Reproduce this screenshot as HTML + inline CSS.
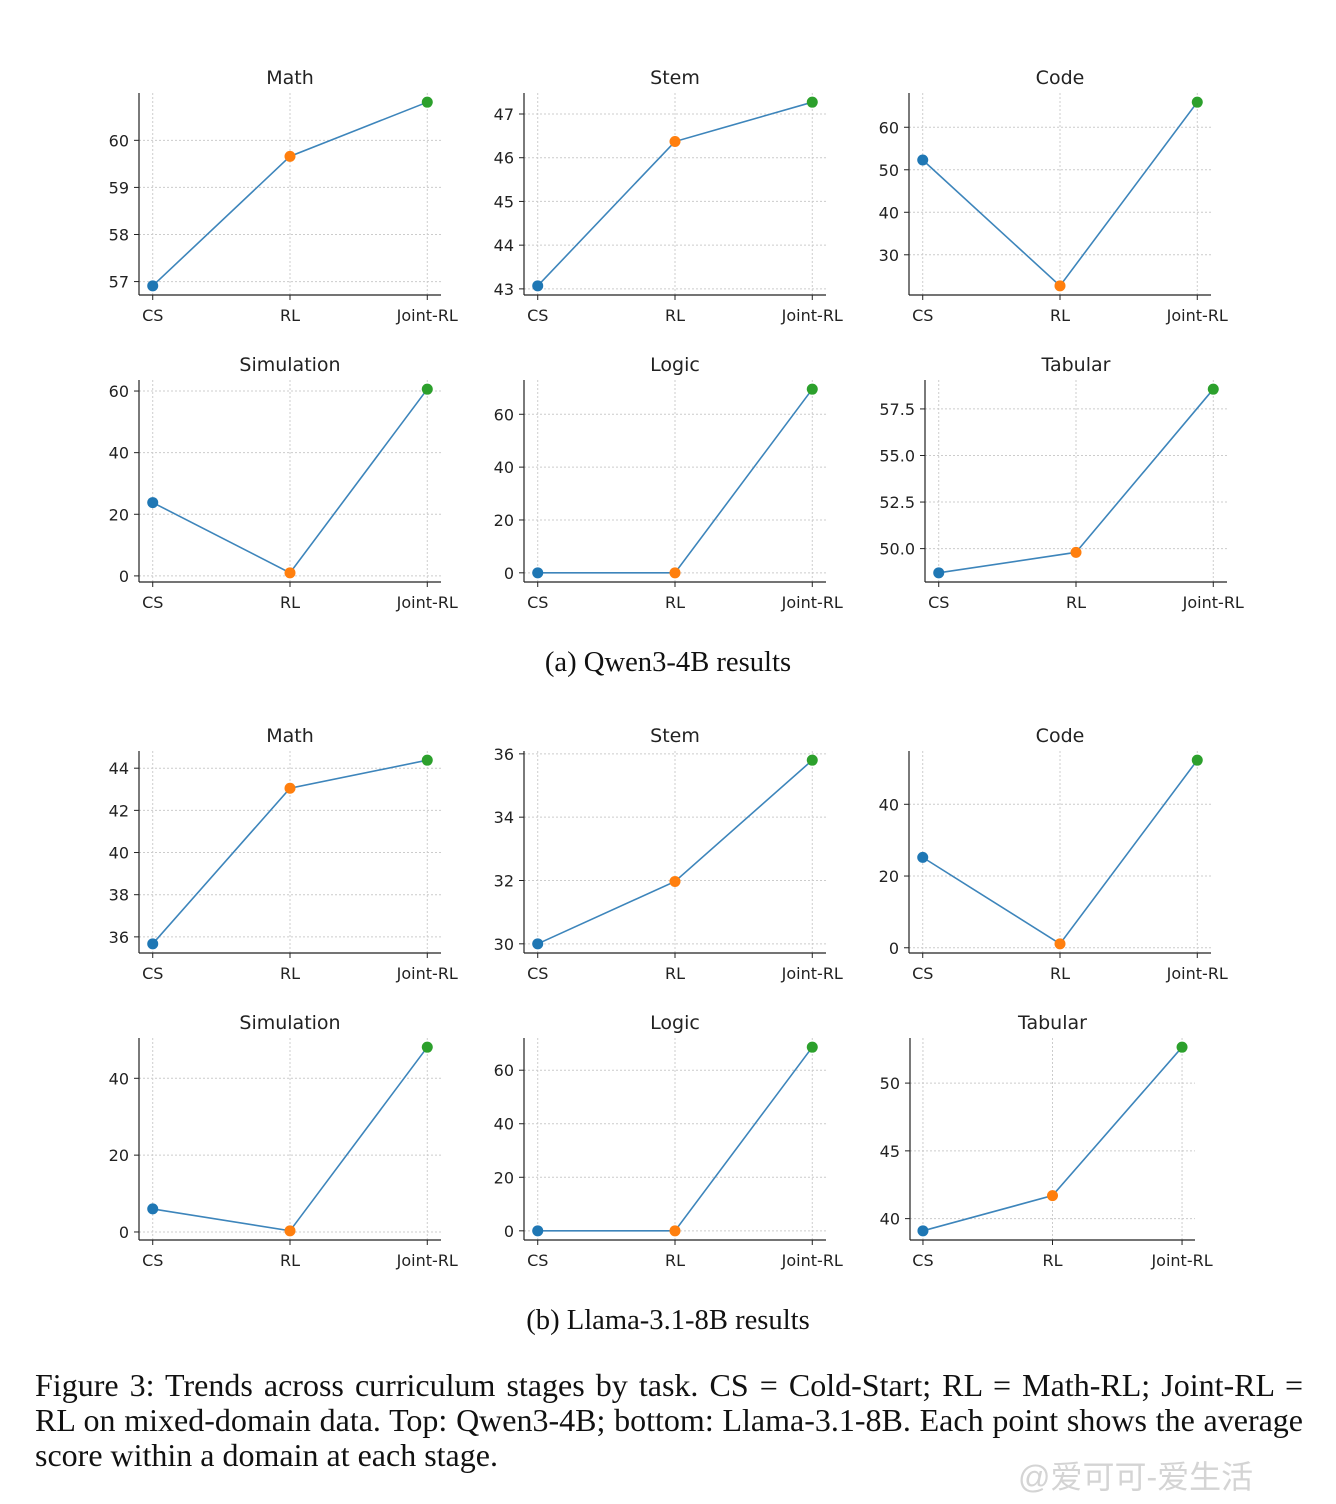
<!DOCTYPE html>
<html><head><meta charset="utf-8">
<style>
body{margin:0;background:#fff;width:1336px;height:1504px;overflow:hidden;position:relative}
svg{position:absolute;left:0;top:0}
.cap{position:absolute;font-family:"Liberation Serif",serif;color:#111}
.ln{display:block;text-align:justify;text-align-last:justify;white-space:nowrap}
.ln.last{text-align-last:left}
</style></head><body>
<svg id="chart" width="1336" height="1504"></svg>
<div class="cap" style="left:0;width:1336px;top:647px;text-align:center;font-size:28.6px">(a) Qwen3-4B results</div>
<div class="cap" style="left:0;width:1336px;top:1305px;text-align:center;font-size:28.6px">(b) Llama-3.1-8B results</div>
<div class="cap" style="left:35px;width:1268px;top:1368px;font-size:32px;line-height:35px">
<span class="ln">Figure 3: Trends across curriculum stages by task. CS = Cold-Start; RL = Math-RL; Joint-RL =</span>
<span class="ln">RL on mixed-domain data. Top: Qwen3-4B; bottom: Llama-3.1-8B. Each point shows the average</span>
<span class="ln last">score within a domain at each stage.</span>
</div>
<div class="cap" style="left:1018px;top:1452px;font-size:32px;color:#d4d4d4;font-family:'Liberation Sans','Noto Sans CJK SC',sans-serif">@爱可可-爱生活</div>
<script>
const stages=["CS","RL","Joint-RL"];
const titles=["Math","Stem","Code","Simulation","Logic","Tabular","Math","Stem","Code","Simulation","Logic","Tabular"];
const values=[
[56.91,59.66,60.81],[43.07,46.37,47.27],[52.3,22.7,65.9],
[23.8,1.0,60.6],[0,0,69.5],[48.7,49.8,58.56],
[35.67,43.05,44.38],[30.0,31.97,35.8],[25.2,1.1,52.3],
[6.0,0.3,48.1],[0,0,68.6],[39.1,41.7,52.65]];
const ticks=[
[57,58,59,60],[43,44,45,46,47],[30,40,50,60],
[0,20,40,60],[0,20,40,60],[50,52.5,55,57.5],
[36,38,40,42,44],[30,32,34,36],[0,20,40],
[0,20,40],[0,20,40,60],[40,45,50]];
const tickFmt=[0,0,0,0,0,1,0,0,0,0,0,0];
const boxes=[
[139,93,441],[524,93,826],[909,93,1211],
[139,380,441],[524,380,826],[925,380,1227],
[139,751,441],[524,751,826],[909,751,1211],
[139,1038,441],[524,1038,826],[910,1038,1195]];
const colors=["#1f77b4","#ff7f0e","#2ca02c"];
const svg=document.getElementById('chart');
const NS="http://www.w3.org/2000/svg";
function mk(t,a,p){const e=document.createElementNS(NS,t);for(const k in a)e.setAttribute(k,a[k]);(p||svg).appendChild(e);return e;}
const H=202;
titles.forEach((title,i)=>{
 const [L,T,R]=boxes[i];const B=T+H;
 const g=mk('g',{});
 
 
 const v=values[i];const mn=Math.min(...v),mx=Math.max(...v),r=mx-mn;
 const y0=mn-0.05*r,y1=mx+0.05*r;
 const Y=d=>B-(d-y0)/(y1-y0)*H;
 const xw=(R-L)/2.2;const X=j=>L+0.1*xw+j*xw;
 const f='font-family:"DejaVu Sans","Liberation Sans",sans-serif;font-size:16px;fill:#222';
 ticks[i].forEach(t=>{const y=Y(t);
  mk('line',{x1:L,x2:R,y1:y,y2:y,stroke:'#ccc','stroke-dasharray':'2,2','stroke-width':1},g);
  mk('line',{x1:L-5,x2:L,y1:y,y2:y,stroke:'#222'},g);
  const tx=mk('text',{x:L-10,y:y+6,'text-anchor':'end',style:f},g);
  
  
  tx.textContent=tickFmt[i]?t.toFixed(1):t;});
 stages.forEach((s,j)=>{const x=X(j);
  mk('line',{x1:x,x2:x,y1:T,y2:B,stroke:'#ccc','stroke-dasharray':'2,2'},g);
  mk('line',{x1:x,x2:x,y1:B,y2:B+5,stroke:'#222'},g);
  const tx=mk('text',{x:x,y:B+26,'text-anchor':'middle',style:f},g);
  
  
  tx.textContent=s;});
 mk('line',{x1:L,x2:L,y1:T,y2:B,stroke:'#222','stroke-width':1.2},g);
 mk('line',{x1:L,x2:R,y1:B,y2:B,stroke:'#222','stroke-width':1.2},g);
 const tt=mk('text',{x:(L+R)/2,y:T-9,'text-anchor':'middle',style:'font-family:"DejaVu Sans","Liberation Sans",sans-serif;font-size:19px;fill:#222'},g);
 
 
 tt.textContent=title;
 const ln=mk('polyline',{points:v.map((d,j)=>X(j)+','+Y(d)).join(' '),fill:'none',stroke:'#3d85bb','stroke-width':1.6},g);
 
 
 v.forEach((d,j)=>{const c=mk('circle',{cx:X(j),cy:Y(d),r:5.5,fill:colors[j]},g);
  
  });
});
</script>
</body></html>
